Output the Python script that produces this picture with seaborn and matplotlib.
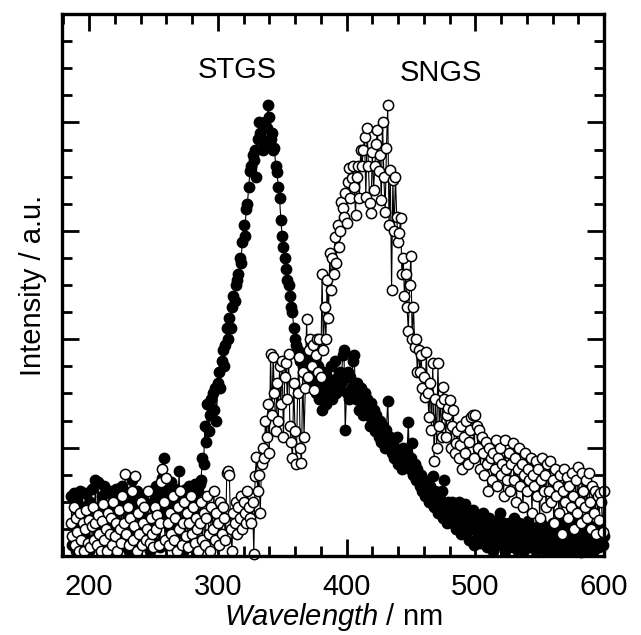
import numpy as np
import matplotlib
matplotlib.use("Agg")
import matplotlib.pyplot as plt
import seaborn as sns
from matplotlib.ticker import MultipleLocator

# wavelength grid (nm), 1 nm steps
wavelength = np.arange(186, 601, 1)

# STGS, filled circles (a.u.)
stgs = [
    0.55, 0.1, 0.58, 0.3, 0.05, 0.52, 0.2, 0.6, 0.08, 0.45,     # 186-195
    0.25, 0.58, 0.1, 0.35, 0.05, 0.5, 0.62, 0.15, 0.3, 0.7,     # 196-205
    0.1, 0.68, 0.4, 0.05, 0.55, 0.25, 0.65, 0.12, 0.45, 0.3,    # 206-215
    0.6, 0.05, 0.35, 0.55, 0.15, 0.62, 0.25, 0.08, 0.5, 0.3,    # 216-225
    0.65, 0.1, 0.45, 0.2, 0.55, 0.05, 0.38, 0.7, 0.15, 0.5,     # 226-235
    0.25, 0.6, 0.08, 0.42, 0.2, 0.55, 0.3, 0.1, 0.48, 0.15,     # 236-245
    0.35, 0.05, 0.6, 0.25, 0.5, 0.12, 0.65, 0.3, 0.55, 0.08,    # 246-255
    0.4, 0.72, 0.9, 0.35, 0.6, 0.15, 0.55, 0.25, 0.68, 0.1,     # 256-265
    0.45, 0.62, 0.2, 0.5, 0.78, 0.3, 0.6, 0.05, 0.55, 0.62,     # 266-275
    0.35, 0.6, 0.65, 0.15, 0.62, 0.55, 0.66, 0.4, 0.64, 0.6,    # 276-285
    0.66, 0.7, 0.9, 0.85, 1.2, 1.05, 1.4, 1.15, 1.3, 1.45,      # 286-295
    1.5, 1.35, 1.55, 1.25, 1.6, 1.7, 1.55, 1.8, 1.9, 1.75,      # 296-305
    1.95, 2.1, 2.0, 2.2, 2.1, 2.3, 2.4, 2.35, 2.5, 2.55,        # 306-315
    2.6, 2.75, 2.7, 2.9, 3.05, 2.95, 3.2, 3.25, 3.4, 3.55,      # 316-325
    3.6, 3.7, 3.65, 3.75, 3.5, 3.85, 4.0, 3.9, 3.85, 3.75,      # 326-335
    3.8, 4.0, 3.95, 4.16, 4.05, 3.85, 3.9, 3.75, 3.76, 3.6,     # 336-345
    3.54, 3.4, 3.3, 3.1, 2.95, 2.85, 2.75, 2.65, 2.55, 2.5,     # 346-355
    2.4, 2.3, 2.25, 2.1, 2.0, 1.95, 1.9, 1.85, 1.8, 1.85,       # 356-365
    1.75, 1.8, 1.7, 1.78, 1.65, 1.8, 1.6, 1.85, 1.55, 1.7,      # 366-375
    1.5, 1.65, 1.75, 1.45, 1.6, 1.35, 1.7, 1.55, 1.4, 1.65,     # 376-385
    1.5, 1.6, 1.75, 1.45, 1.6, 1.8, 1.5, 1.65, 1.55, 1.7,       # 386-395
    1.6, 1.85, 1.9, 1.16, 1.5, 1.7, 1.45, 1.65, 1.55, 1.8,      # 396-405
    1.85, 1.45, 1.6, 1.5, 1.35, 1.55, 1.4, 1.3, 1.5, 1.35,      # 406-415
    1.45, 1.3, 1.2, 1.41, 1.25, 1.35, 1.15, 1.3, 1.2, 1.1,      # 416-425
    1.25, 1.05, 1.2, 1.15, 1.0, 1.16, 1.43, 1.05, 1.1, 0.95,    # 426-435
    1.05, 0.9, 1.0, 1.1, 0.85, 0.95, 0.9, 0.8, 1.0, 0.91,       # 436-445
    0.85, 0.95, 1.24, 0.8, 0.9, 1.04, 0.75, 0.85, 0.7, 0.8,     # 446-455
    0.7, 0.65, 0.75, 0.6, 0.7, 0.55, 0.68, 0.6, 0.5, 0.65,      # 456-465
    0.55, 0.74, 0.45, 0.6, 0.5, 0.4, 0.55, 0.45, 0.6, 0.35,     # 466-475
    0.7, 0.45, 0.3, 0.5, 0.4, 0.36, 0.5, 0.3, 0.45, 0.25,       # 476-485
    0.4, 0.5, 0.3, 0.2, 0.45, 0.35, 0.48, 0.25, 0.4, 0.15,      # 486-495
    0.35, 0.25, 0.42, 0.1, 0.3, 0.38, 0.2, 0.33, 0.12, 0.28,    # 496-505
    0.4, 0.18, 0.3, 0.08, 0.24, 0.35, 0.15, 0.28, 0.05, 0.22,   # 506-515
    0.32, 0.12, 0.25, 0.4, 0.1, 0.2, 0.3, 0.05, 0.25, 0.15,     # 516-525
    0.3, 0.1, 0.22, 0.08, 0.35, 0.18, 0.24, 0.05, 0.3, 0.12,    # 526-535
    0.2, 0.28, 0.06, 0.22, 0.15, 0.32, 0.08, 0.2, 0.26, 0.1,    # 536-545
    0.18, 0.05, 0.27, 0.12, 0.22, 0.3, 0.08, 0.16, 0.25, 0.05,  # 546-555
    0.27, 0.12, 0.2, 0.06, 0.3, 0.15, 0.1, 0.24, 0.05, 0.18,    # 556-565
    0.3, 0.08, 0.2, 0.12, 0.26, 0.05, 0.16, 0.28, 0.1, 0.2,     # 566-575
    0.06, 0.24, 0.14, 0.3, 0.08, 0.2, 0.04, 0.16, 0.26, 0.1,    # 576-585
    0.2, 0.05, 0.15, 0.28, 0.1, 0.22, 0.06, 0.18, 0.12, 0.25,   # 586-595
    0.08, 0.2, 0.14, 0.1, 0.18,                                 # 596-600
]

# SNGS, open circles
sngs = [
    0.3, 0.18, 0.45, 0.1, 0.35, 0.22, 0.05, 0.4, 0.15, 0.3,     # 186-195
    0.05, 0.25, 0.42, 0.12, 0.33, 0.08, 0.28, 0.45, 0.15, 0.3,  # 196-205
    0.1, 0.38, 0.2, 0.05, 0.32, 0.48, 0.15, 0.25, 0.05, 0.4,    # 206-215
    0.2, 0.35, 0.1, 0.5, 0.18, 0.3, 0.05, 0.42, 0.25, 0.12,     # 216-225
    0.55, 0.3, 0.76, 0.2, 0.45, 0.1, 0.35, 0.6, 0.15, 0.28,     # 226-235
    0.74, 0.05, 0.4, 0.2, 0.5, 0.1, 0.3, 0.45, 0.15, 0.25,      # 236-245
    0.6, 0.12, 0.35, 0.2, 0.08, 0.45, 0.25, 0.38, 0.1, 0.3,     # 246-255
    0.68, 0.8, 0.5, 0.15, 0.72, 0.3, 0.1, 0.4, 0.2, 0.55,       # 256-265
    0.15, 0.35, 0.05, 0.45, 0.25, 0.6, 0.1, 0.3, 0.5, 0.18,     # 266-275
    0.4, 0.08, 0.3, 0.55, 0.2, 0.45, 0.12, 0.35, 0.25, 0.05,    # 276-285
    0.3, 0.5, 0.15, 0.4, 0.1, 0.35, 0.55, 0.2, 0.05, 0.45,      # 286-295
    0.25, 0.6, 0.15, 0.4, 0.3, 0.1, 0.5, 0.2, 0.45, 0.35,       # 296-305
    0.15, 0.77, 0.78, 0.75, 0.25, 0.05, 0.4, 0.3, 0.5, 0.2,     # 306-315
    0.45, 0.35, 0.55, 0.25, 0.5, 0.4, 0.3, 0.6, 0.45, 0.35,     # 316-325
    0.3, 0.5, 0.02, 0.74, 0.91, 0.6, 0.75, 0.4, 0.85, 1.0,      # 326-335
    0.9, 1.25, 1.1, 1.4, 0.95, 1.86, 1.3, 1.84, 1.5, 1.15,      # 336-345
    1.6, 1.25, 1.75, 1.4, 1.8, 1.1, 1.65, 1.78, 1.45, 1.86,     # 346-355
    1.2, 1.05, 0.9, 1.6, 1.15, 0.85, 1.5, 1.84, 1.0, 0.86,      # 356-365
    1.7, 1.1, 1.55, 2.19, 1.65, 1.9, 2.0, 1.75, 1.95, 1.53,     # 366-375
    1.85, 2.0, 1.7, 2.0, 1.65, 2.6, 1.9, 2.3, 2.0, 2.55,        # 376-385
    2.2, 2.8, 2.45, 2.75, 2.6, 2.94, 2.7, 3.05, 2.85, 3.0,      # 386-395
    3.27, 3.21, 3.13, 3.35, 3.07, 3.45, 3.58, 3.3, 3.49, 3.6,   # 396-405
    3.4, 3.15, 3.5, 3.6, 3.3, 3.75, 3.6, 3.75, 3.87, 3.31,      # 406-415
    3.95, 3.6, 3.26, 3.16, 3.73, 3.38, 3.6, 3.8, 3.93, 3.55,    # 416-425
    3.7, 3.28, 4.0, 3.5, 3.17, 3.76, 4.16, 3.05, 3.56, 2.45,    # 426-435
    3.47, 3.0, 3.5, 3.13, 2.9, 2.98, 3.12, 2.6, 2.75, 2.4,      # 436-445
    2.6, 2.3, 2.08, 2.5, 2.77, 2.0, 2.3, 1.93, 2.0, 1.7,        # 446-455
    1.9, 1.7, 1.85, 1.55, 1.65, 1.47, 1.88, 1.5, 1.28, 1.6,     # 456-465
    1.16, 1.78, 0.88, 1.45, 1.0, 1.78, 1.2, 1.41, 1.1, 1.56,    # 466-475
    1.45, 1.1, 1.3, 1.37, 1.44, 1.0, 1.2, 1.35, 0.95, 1.04,     # 476-485
    1.15, 0.9, 1.02, 1.2, 0.8, 1.1, 0.95, 1.25, 0.85, 1.05,     # 486-495
    1.16, 1.28, 1.3, 0.9, 1.3, 1.2, 1.0, 1.16, 0.8, 1.1,        # 496-505
    0.95, 0.75, 1.05, 0.85, 0.6, 1.0, 0.9, 0.7, 0.95, 0.8,      # 506-515
    1.07, 0.65, 0.9, 1.0, 0.75, 0.85, 0.55, 1.07, 0.8, 0.7,     # 516-525
    0.95, 0.6, 0.85, 1.04, 0.7, 0.9, 0.5, 0.8, 1.0, 0.65,       # 526-535
    0.85, 0.45, 0.75, 0.95, 0.6, 0.8, 0.7, 0.9, 0.4, 0.75,      # 536-545
    0.65, 0.88, 0.55, 0.8, 0.35, 0.7, 0.9, 0.6, 0.75, 0.45,     # 546-555
    0.85, 0.6, 0.88, 0.5, 0.7, 0.3, 0.8, 0.55, 0.65, 0.4,       # 556-565
    0.75, 0.2, 0.6, 0.8, 0.5, 0.73, 0.35, 0.65, 0.45, 0.77,     # 566-575
    0.55, 0.25, 0.7, 0.4, 0.82, 0.5, 0.3, 0.77, 0.6, 0.45,      # 576-585
    0.7, 0.35, 0.77, 0.5, 0.25, 0.65, 0.4, 0.6, 0.2, 0.55,      # 586-595
    0.33, 0.58, 0.5, 0.22, 0.6,                                 # 596-600
]

series_names = ["STGS", "SNGS"]
label_pos = [(315.5, 4.48), (473, 4.46)]

sns.set_style("ticks")
plt.rcParams["font.family"] = ["Liberation Sans", "DejaVu Sans"]
plt.rcParams["mathtext.fontset"] = "custom"
plt.rcParams["mathtext.it"] = "Liberation Sans:italic"
plt.rcParams["mathtext.rm"] = "Liberation Sans"
plt.rcParams["text.color"] = "black"
plt.rcParams["axes.labelcolor"] = "black"
plt.rcParams["axes.edgecolor"] = "black"
plt.rcParams["xtick.color"] = "black"
plt.rcParams["ytick.color"] = "black"

fs = 21

fig = plt.figure(figsize=(6.41, 6.35), dpi=100)
ax = fig.add_axes([0.0967, 0.1244, 0.8456, 0.8535])

common = dict(ax=ax, color="black", linewidth=0.8, marker="o", markersize=7.4,
              markeredgecolor="black", markeredgewidth=1.1, clip_on=False)
sns.lineplot(x=wavelength, y=stgs, markerfacecolor="black", **common)
sns.lineplot(x=wavelength, y=sngs, markerfacecolor="white", **common)

for name, (tx, ty) in zip(series_names, label_pos):
    ax.text(tx, ty, name, ha="center", va="center", fontsize=fs)

ax.set_xlim(179, 600)
ax.set_ylim(0, 5)
ax.xaxis.set_major_locator(MultipleLocator(100))
ax.xaxis.set_minor_locator(MultipleLocator(20))
ax.yaxis.set_major_locator(MultipleLocator(1))
ax.yaxis.set_minor_locator(MultipleLocator(0.25))
ax.tick_params(which="both", direction="in", top=True, right=True, width=2,
               labelsize=fs, labelleft=False, pad=12)
ax.tick_params(which="major", length=12)
ax.tick_params(which="minor", length=7)
for sp in ax.spines.values():
    sp.set_linewidth(2.4)

ax.set_xlabel(r"$\it{Wavelength}$ / nm", fontsize=fs, labelpad=0)
ax.set_ylabel("Intensity / a.u.", fontsize=fs, labelpad=11)

fig.savefig("out.png", dpi=100)
